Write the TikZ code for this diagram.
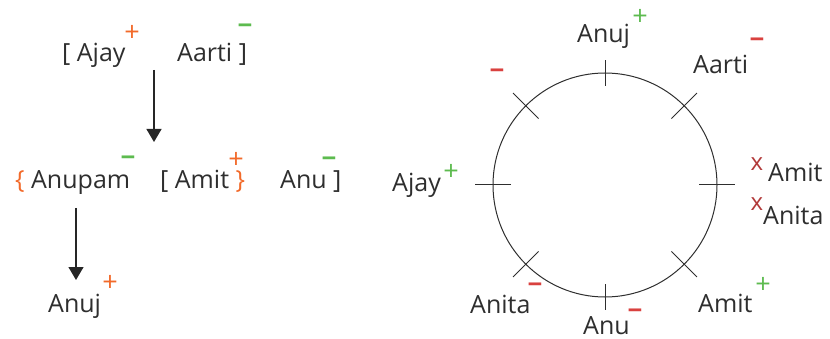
\documentclass[tikz,border=0pt]{standalone}
\usepackage{fontspec}
\setmainfont{Open Sans}
\usetikzlibrary{arrows.meta}
\definecolor{txt}{HTML}{2E2E2E}
\definecolor{orng}{HTML}{F26A2A}
\definecolor{grn}{HTML}{5DBB4F}
\definecolor{rd}{HTML}{D9413F}
\definecolor{xrd}{HTML}{B23A3A}
\tikzset{
  lbl/.style={inner sep=0pt, anchor=base west, text=txt, font=\fontsize{25}{28}\selectfont},
  plussign/.style={inner sep=0pt, anchor=center, font=\fontsize{27}{28}\selectfont},
  minussign/.style={inner sep=0pt, anchor=center, font=\fontsize{26}{28}\selectfont\bfseries},
  xsign/.style={inner sep=0pt, anchor=center, text=xrd, font=\fontsize{24}{26}\selectfont},
  arr/.style={draw=black!85, line width=1.2pt, -{Triangle[width=15pt,length=13pt]}},
  tickmark/.style={draw=txt, line width=1pt},
}
\begin{document}
\begin{tikzpicture}[x=1pt,y=-1pt]
\useasboundingbox (0,0) rectangle (830,339);
% ---- left diagram ----
\node[lbl] (ajayL) at (62,62) {[ Ajay};
\node[plussign, text=orng] (sA) at (132,33) {+};
\node[lbl] (aartiL) at (177,62) {Aarti ]};
\node[minussign, text=grn] (sB) at (245,29) {−};
\coordinate (a1s) at (154,70);
\coordinate (a1e) at (154,142);
\draw[arr] (a1s) -- (a1e);
\node[lbl] (anupamL) at (15,189) {{\color{orng}\{} Anupam};
\node[minussign, text=grn] (sC) at (128,161) {−};
\node[lbl] (amitL) at (160,189) {[ Amit {\color{orng}\}}};
\node[plussign, text=orng] (sD) at (236,160) {+};
\node[lbl] (anuL) at (280,189) {Anu ]};
\node[minussign, text=grn] (sE) at (329,162) {−};
\coordinate (a2s) at (76,208);
\coordinate (a2e) at (76,280);
\draw[arr] (a2s) -- (a2e);
\node[lbl] (anujL) at (48,312) {Anuj};
\node[plussign, text=orng] (sF) at (110,283) {+};
% ---- right diagram ----
\node[circle, draw=txt, line width=1pt, minimum size=224pt, inner sep=0pt] (C) at (605,185) {};
\foreach \a in {0,45,135,180,225,315}{
  \draw[tickmark] (C.center) ++(\a:94pt) -- ++(\a:36pt);
}
\foreach \a in {90,270}{
  \draw[tickmark] (C.center) ++(\a:99pt) -- ++(\a:26pt);
}
\node[lbl] (anujR) at (577,43) {Anuj};
\node[plussign, text=grn] (s1) at (640,17) {+};
\node[lbl] (aartiR) at (693,74) {Aarti};
\node[minussign, text=rd] (s2) at (757,43) {−};
\node[minussign, text=rd] (s3) at (497,74) {−};
\node[lbl] (ajayR) at (392,192) {Ajay};
\node[plussign, text=grn] (s4) at (451,172) {+};
\node[xsign] (x1) at (757,164) {x};
\node[lbl] (amitR) at (768,182) {Amit};
\node[xsign] (x2) at (757,204) {x};
\node[lbl] (anitaR) at (763,225) {Anita};
\node[lbl] (amitR2) at (698,312) {Amit};
\node[plussign, text=grn] (s5) at (763,285) {+};
\node[lbl] (anitaR2) at (470,313) {Anita};
\node[minussign, text=rd] (s6) at (535,288) {−};
\node[lbl] (anuR) at (583,334) {Anu};
\node[minussign, text=rd] (s7) at (635,314) {−};
\end{tikzpicture}
\end{document}
